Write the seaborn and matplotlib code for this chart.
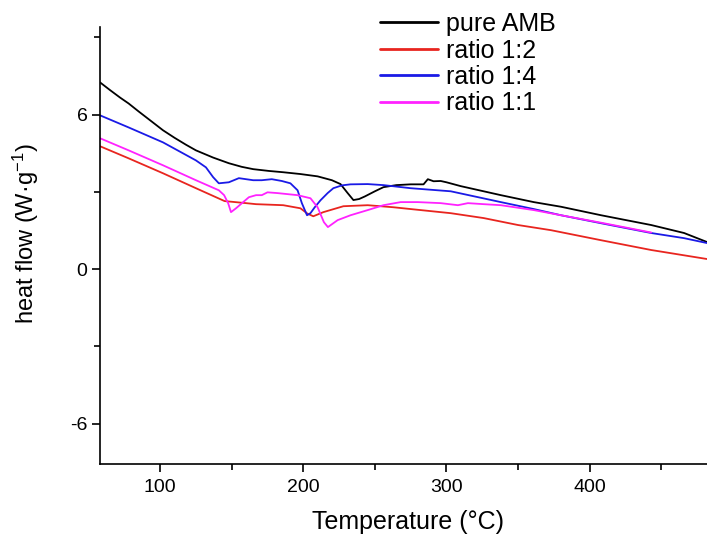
import matplotlib
matplotlib.use("Agg")
import matplotlib.pyplot as plt
from matplotlib.ticker import MultipleLocator
import seaborn as sns
import pandas as pd

# ---- data ----
series_names = ["pure AMB", "ratio 1:2", "ratio 1:4", "ratio 1:1"]

amb_x = [58, 65, 72, 78, 85, 92, 102, 110, 118, 125, 137, 148, 157, 165, 176, 186, 198, 210, 220,
         226, 231, 235, 239, 243, 250, 256, 265, 275, 284, 287, 291, 296, 300, 310, 338, 361, 380,
         408, 443, 466, 482]
amb_y = [7.25, 6.95, 6.66, 6.43, 6.12, 5.82, 5.39, 5.10, 4.83, 4.61, 4.33, 4.11, 3.97, 3.88, 3.81,
         3.76, 3.69, 3.60, 3.45, 3.30, 2.95, 2.68, 2.72, 2.82, 3.02, 3.18, 3.26, 3.29, 3.29, 3.49,
         3.41, 3.42, 3.37, 3.22, 2.87, 2.60, 2.42, 2.09, 1.71, 1.40, 1.05]

r12_x = [58, 78, 102, 125, 145, 160, 167, 186, 198, 203, 207, 214, 228, 245, 263, 275, 303, 326,
         350, 373, 408, 443, 482]
r12_y = [4.77, 4.30, 3.72, 3.14, 2.64, 2.56, 2.52, 2.48, 2.36, 2.15, 2.05, 2.21, 2.44, 2.48, 2.40,
         2.33, 2.17, 1.98, 1.71, 1.51, 1.12, 0.74, 0.39]

r14_x = [58, 78, 102, 125, 132, 137, 141, 148, 155, 165, 171, 178, 185, 191, 196, 199, 202.6, 205,
         208, 212, 217, 221, 227, 233, 245, 256, 275, 303, 338, 361, 380, 408, 443, 466, 482]
r14_y = [5.97, 5.50, 4.92, 4.22, 3.95, 3.57, 3.33, 3.37, 3.53, 3.45, 3.45, 3.49, 3.42, 3.33, 3.06,
         2.56, 2.09, 2.17, 2.40, 2.67, 2.95, 3.14, 3.25, 3.29, 3.30, 3.26, 3.14, 3.02, 2.60, 2.33,
         2.09, 1.78, 1.40, 1.20, 1.01]

r11_x = [58, 78, 102, 125, 141, 144.7, 147.5, 149.5, 153, 158, 162, 167, 171, 175, 182, 196, 205,
         210, 214.4, 217.2, 224, 233, 245, 256, 268, 280, 296, 308, 315, 326, 338, 361, 380, 408, 443]
r11_y = [5.08, 4.61, 4.03, 3.45, 3.06, 2.87, 2.56, 2.21, 2.36, 2.60, 2.79, 2.87, 2.87, 2.98, 2.95,
         2.87, 2.75, 2.40, 1.82, 1.63, 1.90, 2.09, 2.29, 2.48, 2.60, 2.60, 2.56, 2.48, 2.56, 2.52,
         2.48, 2.29, 2.09, 1.80, 1.42]

colors = ["#000000", "#e8251f", "#1a1ae6", "#ff22ff"]
x_ticks = [100, 200, 300, 400]
y_ticks = [-6, 0, 6]

frames = []
for name, xs, ys in zip(series_names,
                        [amb_x, r12_x, r14_x, r11_x],
                        [amb_y, r12_y, r14_y, r11_y]):
    frames.append(pd.DataFrame({"T": xs, "hf": ys, "series": name}))
df = pd.concat(frames, ignore_index=True)

# ---- style ----
sns.set_style("ticks")
plt.rcParams["font.family"] = ["Liberation Sans", "DejaVu Sans"]
plt.rcParams["axes.unicode_minus"] = False
plt.rcParams["mathtext.fontset"] = "custom"
plt.rcParams["mathtext.rm"] = "Liberation Sans"
plt.rcParams["mathtext.it"] = "Liberation Sans"
plt.rcParams["mathtext.default"] = "regular"
plt.rcParams["text.color"] = "black"
plt.rcParams["axes.labelcolor"] = "black"

fig = plt.figure(figsize=(7.07, 5.34), dpi=100)
ax = fig.add_axes([100 / 707, 1 - 464 / 534, 607 / 707, (464 - 27) / 534])

sns.lineplot(data=df, x="T", y="hf", hue="series", hue_order=series_names,
             palette=colors, sort=False, estimator=None, linewidth=1.3, ax=ax)

ax.set_xlim(58, 482)
ax.set_ylim(-7.57, 9.40)
ax.set_xticks(x_ticks)
ax.set_yticks(y_ticks)
ax.set_yticklabels([str(v) for v in y_ticks])
ax.xaxis.set_minor_locator(MultipleLocator(50))
ax.yaxis.set_minor_locator(MultipleLocator(3))

sns.despine(ax=ax)
for s in ["left", "bottom"]:
    ax.spines[s].set_linewidth(1.2)
    ax.spines[s].set_color("black")

ax.tick_params(axis="both", which="major", direction="out", length=6, width=1.2,
               labelsize=14, colors="black")
ax.tick_params(axis="both", which="minor", direction="out", length=4, width=1.2, colors="black")
ax.tick_params(axis="x", which="major", pad=5)
ax.tick_params(axis="y", which="major", pad=3)

ax.set_xlabel("Temperature (°C)", fontsize=18, color="black")
ax.set_ylabel("heat flow (W·g$^{-1}$)", fontsize=17, color="black")
ax.xaxis.set_label_coords(0.507, -0.105)
ax.yaxis.set_label_coords(-0.098, 0.526)

leg = ax.legend(loc="upper left", bbox_to_anchor=(380 / 707, 1 - 12 / 534),
                bbox_transform=fig.transFigure, frameon=False, fontsize=18,
                handlelength=2.3, handletextpad=0.35, labelspacing=0.1,
                borderpad=0, borderaxespad=0)
for line in leg.get_lines():
    line.set_linewidth(2.0)
for t in leg.get_texts():
    t.set_color("black")

fig.savefig("out.png", dpi=100)
